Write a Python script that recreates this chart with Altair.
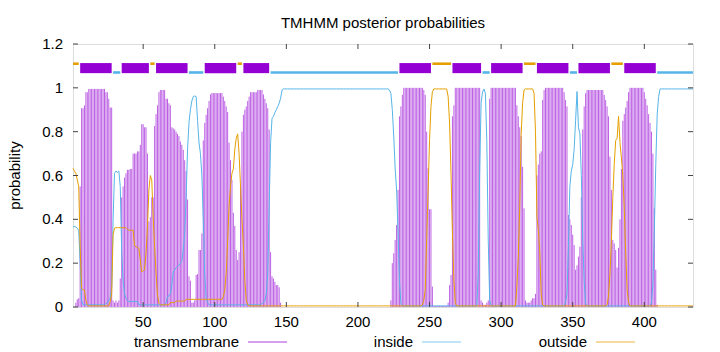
import altair as alt
import pandas as pd

SEQ_LEN = 434
TITLE = "TMHMM posterior probabilities"
Y_TITLE = "probability"

# ---- posterior probabilities per residue ----
tm_prob = (
    [0.0, 0.0, 0.02, 0.035, 0.04, 0.55, 0.907, 0.907, 0.92, 0.98, 0.98]          # 1-11
    + [0.995] * 12                                                                # 12-23
    + [0.98, 0.98, 0.95, 0.91, 0.91]                                              # 24-28
    + [0.03, 0.02, 0.03, 0.02, 0.03, 0.13]                                        # 29-34
    + [0.50, 0.55, 0.59, 0.61, 0.626, 0.626, 0.63, 0.63, 0.70, 0.70, 0.70, 0.71,
       0.71, 0.74, 0.834, 0.834, 0.82, 0.82, 0.70, 0.39, 0.41, 0.50, 0.50, 0.826]  # 35-58
    + [0.88, 0.92, 0.98, 0.99, 0.99, 0.99, 0.99, 0.95, 0.95, 0.93, 0.92, 0.82,
       0.815, 0.81, 0.80, 0.79, 0.78, 0.755, 0.74, 0.717, 0.67, 0.62, 0.49]       # 59-81
    + [0.14, 0.12, 0.02, 0.02, 0.03, 0.146, 0.15, 0.26, 0.26, 0.336]              # 82-91
    + [0.76, 0.84, 0.877, 0.907, 0.94, 0.97]                                      # 92-97
    + [0.976] * 8                                                                 # 98-105
    + [0.96, 0.94, 0.915, 0.89, 0.75, 0.67, 0.58, 0.43, 0.37, 0.26, 0.215, 0.25,
       0.55, 0.80, 0.877, 0.90, 0.915, 0.94, 0.96]                                # 106-124
    + [0.98] * 5                                                                  # 125-129
    + [0.99] * 4                                                                  # 130-133
    + [0.97, 0.95, 0.93, 0.907, 0.81, 0.25, 0.14, 0.13, 0.115, 0.10, 0.10, 0.09,
       0.02]                                                                      # 134-146
    + [0.0] * 76                                                                  # 147-222
    + [0.03, 0.20, 0.245, 0.306, 0.374, 0.534, 0.87, 0.915, 0.968]                # 223-231
    + [1.0] * 14                                                                  # 232-245
    + [0.99, 0.968, 0.80, 0.633, 0.446, 0.446, 0.093]                             # 246-252
    + [0.005] * 10                                                                # 253-262
    + [0.02, 0.10, 0.146, 0.87, 0.92]                                             # 263-267
    + [1.0] * 18                                                                  # 268-285
    + [0.03, 0.02, 0.01, 0.01, 0.02, 0.03, 0.95]                                  # 286-292
    + [1.0] * 18                                                                  # 293-310
    + [0.92, 0.87, 0.82, 0.78, 0.64, 0.45, 0.03, 0.02, 0.02, 0.02, 0.03, 0.04,
       0.04, 0.06, 0.60, 0.65, 0.70, 0.71, 0.945, 0.99]                           # 311-330
    + [1.0] * 13                                                                  # 331-343
    + [0.98, 0.945, 0.915, 0.42, 0.40, 0.374, 0.33, 0.283, 0.17, 0.19, 0.23,
       0.275, 0.5, 0.81, 0.915, 0.975]                                            # 344-359
    + [0.99] * 12                                                                 # 360-371
    + [0.968, 0.945, 0.915, 0.87, 0.686, 0.534, 0.306, 0.29, 0.26, 0.18, 0.27,
       0.40, 0.63, 0.85, 0.88, 0.91, 0.94, 0.98]                                  # 372-389
    + [1.0] * 10                                                                  # 390-399
    + [0.98, 0.95, 0.92, 0.88, 0.84, 0.80, 0.70, 0.45, 0.17, 0.01]                # 400-409
    + [0.0] * 25                                                                  # 410-434
)

inside_prob = (
    [0.367, 0.367, 0.365, 0.36, 0.35, 0.2, 0.03]                                  # 1-7
    + [0.01] * 16                                                                 # 8-23
    + [0.015, 0.02, 0.03, 0.04, 0.09, 0.40, 0.61, 0.62, 0.615, 0.62, 0.55, 0.25,
       0.12, 0.06, 0.04, 0.03]                                                    # 24-39
    + [0.025] * 7                                                                 # 40-46
    + [0.01] * 19                                                                 # 47-65
    + [0.02, 0.047, 0.05, 0.06, 0.10, 0.16, 0.17, 0.18, 0.185, 0.19, 0.20, 0.21,
       0.26, 0.33, 0.50, 0.72, 0.84, 0.90, 0.94, 0.96, 0.963, 0.96, 0.85, 0.75,
       0.70, 0.60, 0.40, 0.15, 0.04, 0.02]                                        # 66-95
    + [0.01] * 37                                                                 # 96-132
    + [0.015, 0.02, 0.03, 0.06, 0.15, 0.46, 0.75, 0.86, 0.87, 0.887, 0.90, 0.915,
       0.93, 0.953, 0.99]                                                         # 133-147
    + [0.995] * 74                                                                # 148-221
    + [0.99, 0.975, 0.90, 0.78, 0.63, 0.534, 0.35, 0.12, 0.02]                    # 222-230
    + [0.005] * 53                                                                # 231-283
    + [0.154, 0.61, 0.93, 0.98, 0.995, 0.975, 0.76, 0.306, 0.03]                  # 284-292
    + [0.005] * 52                                                                # 293-344
    + [0.024, 0.06, 0.275, 0.55, 0.62, 0.65, 0.72, 0.85, 0.983, 0.82, 0.79, 0.60,
       0.30, 0.12, 0.017]                                                         # 345-359
    + [0.005] * 45                                                                # 360-404
    + [0.02, 0.10, 0.35, 0.65, 0.88, 0.96]                                        # 405-410
    + [0.995] * 24                                                                # 411-434
)

outside_prob = (
    [0.633, 0.62, 0.61, 0.58, 0.55, 0.275, 0.085, 0.078, 0.078, 0.03, 0.01]       # 1-11
    + [0.005] * 15                                                                # 12-26
    + [0.024, 0.06, 0.33, 0.36]                                                   # 27-30
    + [0.362] * 8                                                                 # 31-38
    + [0.355, 0.35, 0.35, 0.35, 0.35, 0.28, 0.275, 0.272, 0.268, 0.215, 0.16,
       0.165, 0.17, 0.245, 0.367, 0.534, 0.60, 0.58, 0.41, 0.275, 0.154, 0.055,
       0.017]                                                                     # 39-61
    + [0.01] * 7                                                                  # 62-68
    + [0.02] * 4                                                                  # 69-72
    + [0.027] * 7                                                                 # 73-79
    + [0.035] * 26                                                                # 80-105
    + [0.047, 0.078, 0.154, 0.30, 0.46, 0.55, 0.61, 0.63, 0.72, 0.77, 0.79, 0.70,
       0.55, 0.40, 0.28, 0.12, 0.03, 0.01]                                        # 106-123
    + [0.005] * 121                                                               # 124-244
    + [0.01, 0.03, 0.078, 0.306, 0.534, 0.76, 0.915, 0.983]                       # 245-252
    + [0.995] * 10                                                                # 253-262
    + [0.96, 0.84, 0.61, 0.336, 0.123, 0.017]                                     # 263-268
    + [0.005] * 42                                                                # 269-310
    + [0.093, 0.23, 0.458, 0.79, 0.93, 0.99]                                      # 311-316
    + [0.995] * 6                                                                 # 317-322
    + [0.975, 0.80, 0.41, 0.35, 0.25, 0.06, 0.01]                                 # 323-329
    + [0.005] * 44                                                                # 330-373
    + [0.01, 0.05, 0.15, 0.30, 0.50, 0.65, 0.76, 0.77, 0.87, 0.75, 0.68, 0.60,
       0.45, 0.25, 0.08, 0.02]                                                    # 374-389
    + [0.005] * 45                                                                # 390-434
)

# ---- predicted topology ----
topo_start = [1, 6, 29, 35, 55, 59, 82, 93, 116, 120, 139, 229, 252, 266, 287,
              293, 316, 325, 348, 354, 377, 386, 409]
topo_end = [5, 28, 34, 54, 58, 81, 92, 115, 119, 138, 228, 251, 265, 286, 292,
            315, 324, 347, 353, 376, 385, 408, 434]
topo_kind = ["outside", "TMhelix", "inside", "TMhelix", "outside", "TMhelix",
             "inside", "TMhelix", "outside", "TMhelix", "inside", "TMhelix",
             "outside", "TMhelix", "inside", "TMhelix", "outside", "TMhelix",
             "inside", "TMhelix", "outside", "TMhelix", "inside"]

x_ticks = [50, 100, 150, 200, 250, 300, 350, 400]
y_ticks = [0, 0.2, 0.4, 0.6, 0.8, 1.0, 1.2]
x_tick_labels = ["50", "100", "150", "200", "250", "300", "350", "400"]
y_tick_labels = ["0", "0.2", "0.4", "0.6", "0.8", "1", "1.2"]

legend_labels = ["transmembrane", "inside", "outside"]

C_TM = "#9400d3"
C_IN = "#56b4e9"
C_OUT = "#e69f00"
legend_colors = [C_TM, C_IN, C_OUT]
FONT = "Liberation Sans"

W, H = 620, 263
xs = alt.Scale(domain=[1, SEQ_LEN], nice=False, zero=False)
ys = alt.Scale(domain=[0, 1.2], nice=False, zero=False)

df_tm = pd.DataFrame({"res": range(1, len(tm_prob) + 1), "p": tm_prob})
df_tm["base"] = 0.0
df_in = pd.DataFrame({"res": range(1, len(inside_prob) + 1), "p": inside_prob})
df_out = pd.DataFrame({"res": range(1, len(outside_prob) + 1), "p": outside_prob})
df_topo = pd.DataFrame({"start": topo_start, "end": topo_end, "kind": topo_kind})

impulses = alt.Chart(df_tm).mark_rule(color=C_TM, strokeWidth=1, opacity=0.62).encode(
    x=alt.X("res:Q", scale=xs, axis=None),
    y=alt.Y("p:Q", scale=ys, axis=None),
    y2="base:Q",
)

inside_line = alt.Chart(df_in).mark_line(color=C_IN, strokeWidth=1).encode(
    x=alt.X("res:Q", scale=xs, axis=None),
    y=alt.Y("p:Q", scale=ys, axis=None),
)
outside_line = alt.Chart(df_out).mark_line(color=C_OUT, strokeWidth=1).encode(
    x=alt.X("res:Q", scale=xs, axis=None),
    y=alt.Y("p:Q", scale=ys, axis=None),
)

topo_in = alt.Chart(df_topo).transform_filter(alt.datum.kind == "inside").mark_rule(
    color=C_IN, strokeWidth=2.6).encode(
    x=alt.X("start:Q", scale=xs, axis=None), x2="end:Q",
    y=alt.YDatum(1.07, scale=ys, axis=None),
)
topo_out = alt.Chart(df_topo).transform_filter(alt.datum.kind == "outside").mark_rule(
    color=C_OUT, strokeWidth=2.6).encode(
    x=alt.X("start:Q", scale=xs, axis=None), x2="end:Q",
    y=alt.YDatum(1.11, scale=ys, axis=None),
)
topo_tm = alt.Chart(df_topo).transform_filter(alt.datum.kind == "TMhelix").mark_rect(
    color=C_TM).encode(
    x=alt.X("start:Q", scale=xs, axis=None), x2="end:Q",
    y=alt.YDatum(1.067, scale=ys, axis=None), y2=alt.Y2Datum(1.113),
)

# inward (gnuplot-style) ticks on all four sides, and tick labels
df_yt = pd.DataFrame({"v": y_ticks, "lab": y_tick_labels})
df_xt = pd.DataFrame({"v": x_ticks, "lab": x_tick_labels})
TICK = 5
tick_style = dict(color="#444444", strokeWidth=1)
yt_left = alt.Chart(df_yt).mark_rule(**tick_style).encode(
    y=alt.Y("v:Q", scale=ys, axis=None), x=alt.value(0), x2=alt.value(TICK))
yt_right = alt.Chart(df_yt).mark_rule(**tick_style).encode(
    y=alt.Y("v:Q", scale=ys, axis=None), x=alt.value(W - TICK), x2=alt.value(W))
xt_bottom = alt.Chart(df_xt).mark_rule(**tick_style).encode(
    x=alt.X("v:Q", scale=xs, axis=None), y=alt.value(H - TICK), y2=alt.value(H))
xt_top = alt.Chart(df_xt).mark_rule(**tick_style).encode(
    x=alt.X("v:Q", scale=xs, axis=None), y=alt.value(0), y2=alt.value(TICK))

yt_labels = alt.Chart(df_yt).mark_text(
    font=FONT, fontSize=15, color="black", align="right", baseline="middle").encode(
    y=alt.Y("v:Q", scale=ys, axis=None), x=alt.value(-10), text="lab:N")
xt_labels = alt.Chart(df_xt).mark_text(
    font=FONT, fontSize=15, color="black", align="center", baseline="alphabetic").encode(
    x=alt.X("v:Q", scale=xs, axis=None), y=alt.value(H + 20), text="lab:N")

# title and y-axis title as text
title_mark = alt.Chart(pd.DataFrame({"t": [TITLE]})).mark_text(
    font=FONT, fontSize=15, color="black", align="center", baseline="alphabetic"
).encode(text="t:N", x=alt.value(W / 2), y=alt.value(-16))
ytitle_mark = alt.Chart(pd.DataFrame({"t": [Y_TITLE]})).mark_text(
    font=FONT, fontSize=15, color="black", align="center", baseline="middle", angle=270
).encode(text="t:N", x=alt.value(-58), y=alt.value(H / 2))

# gnuplot-style key: label then a line sample, in one row below the plot
KEY_STEP = 174
legend_layers = []
for i, (lab, col) in enumerate(zip(legend_labels, legend_colors)):
    d = pd.DataFrame({"label": [lab]})
    legend_layers.append(
        alt.Chart(d).mark_text(font=FONT, fontSize=15, color="black", align="right",
                               baseline="alphabetic").encode(
            text="label:N", x=alt.value(166 + i * KEY_STEP), y=alt.value(H + 39.5)))
    legend_layers.append(
        alt.Chart(d).mark_rule(color=col, strokeWidth=1, opacity=0.75).encode(
            x=alt.value(175 + i * KEY_STEP), x2=alt.value(214 + i * KEY_STEP),
            y=alt.value(H + 35)))

chart = alt.layer(
    impulses, inside_line, outside_line, topo_in, topo_out, topo_tm,
    yt_left, yt_right, xt_bottom, xt_top, yt_labels, xt_labels,
    title_mark, ytitle_mark, *legend_layers,
).properties(
    width=W, height=H,
    autosize=alt.AutoSizeParams(type="none"),
    padding={"left": 73, "top": 44, "right": 27, "bottom": 45},
).configure_view(
    stroke="#000000", strokeWidth=1,
).configure(background="white")

chart.save("out.html", embed_options={"renderer": "svg", "actions": False})
